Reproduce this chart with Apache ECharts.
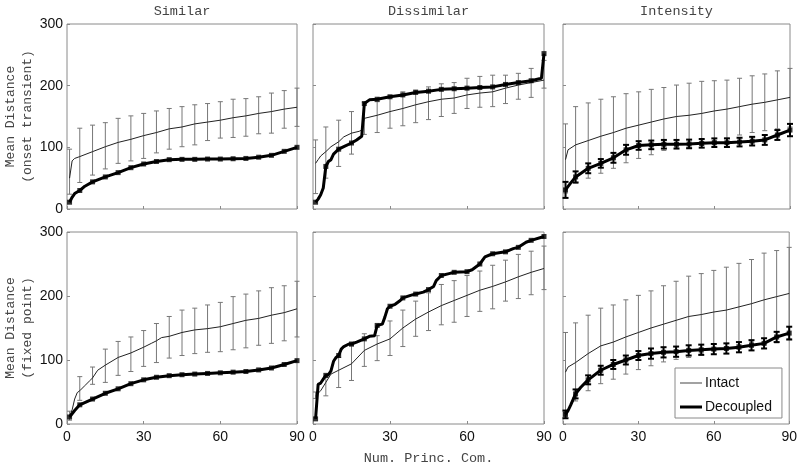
<!DOCTYPE html>
<html>
<head>
<meta charset="utf-8">
<script src="https://cdn.jsdelivr.net/npm/echarts@6/dist/echarts.min.js"></script>
<style>html,body{margin:0;padding:0;background:#fff;}#c{width:800px;height:467px;}</style>
</head>
<body>
<div id="c"></div>
<script>
// ---------- DATA ----------
const panelTitles = ['Similar', 'Dissimilar', 'Intensity'];
const rowNames = ['Mean Distance\n(onset transient)', 'Mean Distance\n(fixed point)'];
const xName = 'Num. Princ. Com.';
const legendNames = ['Intact', 'Decoupled'];
const xTicks = [0, 30, 60, 90];
const yTicks = [0, 100, 200, 300];
const errX = [1,5,10,15,20,25,30,35,40,45,50,55,60,65,70,75,80,85,90];

// Similar / onset transient
const simOnsetIntact = [[1,50],[2,78],[3,82],[5,85],[10,93],[15,101],[20,108],[25,113],[30,119],[35,124],[40,130],[45,133],[50,138],[55,141],[60,144],[65,148],[70,151],[75,155],[80,158],[85,162],[90,165]];
const simOnsetIntactHi = [97,131,136,140,147,151,155,159,163,166,169,171,174,178,179,182,188,192,196];
const simOnsetIntactLo = [24,43,55,65,74,78,82,91,97,101,104,111,115,116,118,122,123,131,134];
const simOnsetDec = [[1,11],[2,19],[3,25],[5,30],[7,37],[10,44],[15,52],[20,59],[25,67],[30,73],[35,77],[40,80],[45,80.5],[50,80.5],[55,81],[60,81],[65,81.5],[70,82],[75,84],[80,87],[85,93.5],[90,100]];

// Dissimilar / onset transient
const disOnsetIntact = [[1,74],[2,80],[3,86],[5,93],[7,101],[10,109],[12,117],[15,123],[18,126],[19,128],[20,147],[25,152],[30,158],[35,163],[40,169],[45,174],[50,178],[55,180],[60,185],[65,188],[70,190],[75,196],[80,201],[85,205],[90,209]];
const disOnsetIntactHi = [112,133,144,158,173,174,181,190,193,198,203,205,212,215,217,217,220,228,241];
const disOnsetIntactLo = [25,50,69,89,121,124,131,135,140,145,150,155,163,165,166,171,178,181,196];
const disOnsetDec = [[1,11],[2,16],[3,23],[4,34],[5,69],[6,77],[7,80],[8,89],[9,93],[10,97],[12,101],[15,107],[17,112],[19,118],[20,171],[22,177],[25,178],[30,182],[35,185],[40,189],[45,191],[50,194],[55,195],[60,196],[65,197],[70,198],[75,202],[80,205],[85,208],[89,212],[90,252]];

// Intensity / onset transient
const intOnsetIntact = [[1,80],[2,96],[5,104],[10,111],[15,118],[20,124],[25,131],[30,136],[35,141],[40,146],[45,150],[50,152],[55,155],[60,159],[65,162],[70,166],[75,170],[80,173],[85,177],[90,181]];
const intOnsetIntactHi = [138,166,172,178,182,187,190,194,197,201,204,207,208,209,212,216,219,224,228];
const intOnsetIntactLo = [26,42,50,58,66,75,82,88,95,99,100,103,110,115,120,124,127,130,133];
const intOnsetDec = [[1,31],[3,42],[5,52],[10,66],[15,74],[20,83],[25,96],[30,103],[35,104],[40,105],[45,105],[50,105.5],[55,106.5],[60,107.5],[65,107.5],[70,108.5],[75,110],[80,112],[85,120],[90,128]];
const intOnsetDecErr = [13,9,8,7,8,8,7,7,7,7,7,7,7,7,7,7,8,8,10];

// Similar / fixed point
const simFixedIntact = [[1,12],[2,22],[3,39],[4,49],[5,52],[7,60],[9,68],[10,72],[12,84],[15,92],[20,104],[25,111],[30,120],[33,126],[35,130],[37,135],[40,137],[45,143],[50,147],[55,149],[60,152],[65,157],[70,162],[75,165],[80,170],[85,174],[90,180]];
const simFixedIntactHi = [20,74,89,117,129,136,146,157,168,178,181,186,190,199,203,208,213,216,223];
const simFixedIntactLo = [6,37,62,65,76,82,90,96,103,107,110,112,113,116,119,123,126,130,136];
const simFixedDec = [[1,11],[3,21],[5,30],[10,39],[15,48],[20,55],[25,63],[30,69],[35,73],[40,75.5],[45,77],[50,78],[55,79],[60,80],[65,81],[70,82],[75,84.5],[80,87.5],[85,93],[90,99]];

// Dissimilar / fixed point
const disFixedIntact = [[1,44],[3,52],[5,65],[7,78],[10,84],[15,94],[20,115],[25,125],[30,133],[35,150],[40,164],[45,175],[50,185],[55,193],[60,201],[65,209],[70,215],[75,222],[80,230],[85,237],[90,243]];
const disFixedIntactHi = [50,73,104,122,141,138,161,178,192,205,218,224,232,239,248,256,265,270,278];
const disFixedIntactLo = [40,44,57,68,90,99,107,121,137,146,155,159,168,176,180,192,196,202,210];
const disFixedDec = [[1,8],[2,62],[3,64],[4,70],[5,76],[6,77],[7,83],[8,98],[9,104],[10,107],[11,117],[12,121],[14,125],[15,125],[17,128],[20,133],[22,137],[24,138],[25,154],[27,156],[28,167],[29,180],[30,184],[32,187],[34,193],[35,197],[38,201],[40,203],[43,206],[45,210],[47,215],[48,224],[50,232],[53,235],[55,237],[60,238],[62,241],[65,250],[67,261],[70,266],[75,269],[78,274],[80,276],[83,284],[85,287],[90,293]];

// Intensity / fixed point
const intFixedIntact = [[1,81],[2,89],[5,96],[10,110],[15,122],[20,128],[25,136],[30,143],[35,150],[40,156],[45,162],[50,168],[55,171],[60,175],[65,178],[70,183],[75,188],[80,194],[85,199],[90,204]];
const intFixedIntactHi = [143,158,170,181,186,194,201,208,216,223,231,235,240,245,251,257,267,271,276];
const intFixedIntactLo = [19,36,52,63,70,78,85,91,97,101,104,111,115,120,124,128,124,127,133];
const intFixedDec = [[1,15],[2,21],[3,29],[5,47],[7,57],[10,69],[15,84],[20,93],[25,100],[30,107],[35,110],[40,112],[45,113],[50,115],[55,116],[60,117],[65,118],[70,120],[75,123],[80,126],[85,136],[90,142]];
const intFixedDecErr = [6,7,7,7,7,7,7,8,8,8,8,8,8,8,8,8,8,8,10];

// ---------- LAYOUT ----------
const cols = [[67,230],[313,231],[563,227]];
const rows = [[24,185],[232,192]];
const MONO = '"Liberation Mono","DejaVu Sans Mono",monospace';
const SANS = '"Liberation Sans",Arial,sans-serif';

const panels = [
  {intact: simOnsetIntact, hi: simOnsetIntactHi, lo: simOnsetIntactLo, dec: simOnsetDec, decErr: null},
  {intact: disOnsetIntact, hi: disOnsetIntactHi, lo: disOnsetIntactLo, dec: disOnsetDec, decErr: null},
  {intact: intOnsetIntact, hi: intOnsetIntactHi, lo: intOnsetIntactLo, dec: intOnsetDec, decErr: intOnsetDecErr},
  {intact: simFixedIntact, hi: simFixedIntactHi, lo: simFixedIntactLo, dec: simFixedDec, decErr: null},
  {intact: disFixedIntact, hi: disFixedIntactHi, lo: disFixedIntactLo, dec: disFixedDec, decErr: null},
  {intact: intFixedIntact, hi: intFixedIntactHi, lo: intFixedIntactLo, dec: intFixedDec, decErr: intFixedDecErr}
];

function errRender(capW, lw, color) {
  return function (params, api) {
    const x = api.value(0), lo = api.value(1), hi = api.value(2);
    const a = api.coord([x, hi]), b = api.coord([x, lo]);
    const st = {stroke: color, lineWidth: lw};
    return {type: 'group', children: [
      {type: 'line', shape: {x1: a[0], y1: a[1], x2: b[0], y2: b[1]}, style: st},
      {type: 'line', shape: {x1: a[0]-capW, y1: a[1], x2: a[0]+capW, y2: a[1]}, style: st},
      {type: 'line', shape: {x1: b[0]-capW, y1: b[1], x2: b[0]+capW, y2: b[1]}, style: st}
    ]};
  };
}

function lookup(arr, x) {
  for (const p of arr) if (p[0] === x) return p[1];
  return null;
}

const grids = [], xAxes = [], yAxes = [], series = [];
panels.forEach((p, i) => {
  const r = Math.floor(i / 3), c = i % 3;
  grids.push({left: cols[c][0], width: cols[c][1], top: rows[r][0], height: rows[r][1],
    show: true, borderColor: '#8a8a8a', borderWidth: 1, backgroundColor: 'transparent'});
  xAxes.push({type: 'value', gridIndex: i, min: xTicks[0], max: xTicks[xTicks.length-1], interval: 30,
    axisLine: {show: false}, splitLine: {show: false},
    axisTick: {show: true, inside: true, length: 3, lineStyle: {color: '#8a8a8a'}},
    axisLabel: {show: r === 1, margin: 6, fontFamily: SANS, fontSize: 14, color: '#111'},
    name: (r === 1 && c === 1) ? xName : '', nameLocation: 'middle', nameGap: 27,
    nameTextStyle: {fontFamily: MONO, fontSize: 13.5, color: '#444'}});
  yAxes.push({type: 'value', gridIndex: i, min: yTicks[0], max: yTicks[yTicks.length-1], interval: 100,
    axisLine: {show: false}, splitLine: {show: false},
    axisTick: {show: true, inside: true, length: 3, lineStyle: {color: '#8a8a8a'}},
    axisLabel: {show: c === 0, margin: 4, fontFamily: SANS, fontSize: 14, color: '#111'},
    name: c === 0 ? rowNames[r] : '', nameLocation: 'middle', nameGap: 30, nameRotate: 90,
    nameTextStyle: {fontFamily: MONO, fontSize: 13, color: '#444', lineHeight: 17}});

  series.push({type: 'custom', name: 'intactErr', xAxisIndex: i, yAxisIndex: i, z: 1,
    renderItem: errRender(2.5, 1, '#777'), encode: {x: 0, y: [1, 2]},
    data: errX.map((x, k) => [x, p.lo[k], p.hi[k]])});
  series.push({type: 'line', name: legendNames[0], xAxisIndex: i, yAxisIndex: i, z: 2,
    data: p.intact, symbol: 'none', lineStyle: {color: '#222', width: 1}, itemStyle: {color: '#222'}});
  series.push({type: 'line', name: legendNames[1], xAxisIndex: i, yAxisIndex: i, z: 3,
    data: p.dec, symbol: 'none', lineStyle: {color: '#000', width: 3}, itemStyle: {color: '#000'}});
  if (p.decErr) {
    series.push({type: 'custom', name: 'decErr', xAxisIndex: i, yAxisIndex: i, z: 4,
      renderItem: errRender(3, 2, '#000'), encode: {x: 0, y: [1, 2]},
      data: errX.map((x, k) => { const v = lookup(p.dec, x); return [x, v - p.decErr[k], v + p.decErr[k]]; })});
  }
  series.push({type: 'scatter', name: 'decMarkers', xAxisIndex: i, yAxisIndex: i, z: 5,
    symbol: 'rect', symbolSize: 5, itemStyle: {color: '#000'},
    data: errX.map(x => [x, lookup(p.dec, x)])});
});

const graphics = panelTitles.map((t, c) => ({
  type: 'text', x: cols[c][0] + cols[c][1] / 2, y: 4,
  style: {text: t, textAlign: 'center', fontFamily: MONO, fontSize: 13.5, fill: '#444'}
}));

const chart = echarts.init(document.getElementById('c'), null, {renderer: 'canvas'});
chart.setOption({
  animation: false,
  backgroundColor: '#fff',
  grid: grids, xAxis: xAxes, yAxis: yAxes, series: series,
  graphic: graphics,
  legend: {
    data: [
      {name: legendNames[0], icon: 'path://M0,0H22V1H0Z', itemStyle: {color: '#444'}},
      {name: legendNames[1], icon: 'path://M0,0H22V3H0Z', itemStyle: {color: '#000'}}
    ],
    orient: 'vertical', left: 675, top: 368,
    padding: [8, 10, 4, 5], itemGap: 10, itemWidth: 22, itemHeight: 14,
    borderColor: '#8a8a8a', borderWidth: 1, backgroundColor: '#fff', borderRadius: 0,
    textStyle: {fontFamily: SANS, fontSize: 14, color: '#111', padding: [0, 0, 0, -2]}}
});
</script>
</body>
</html>
